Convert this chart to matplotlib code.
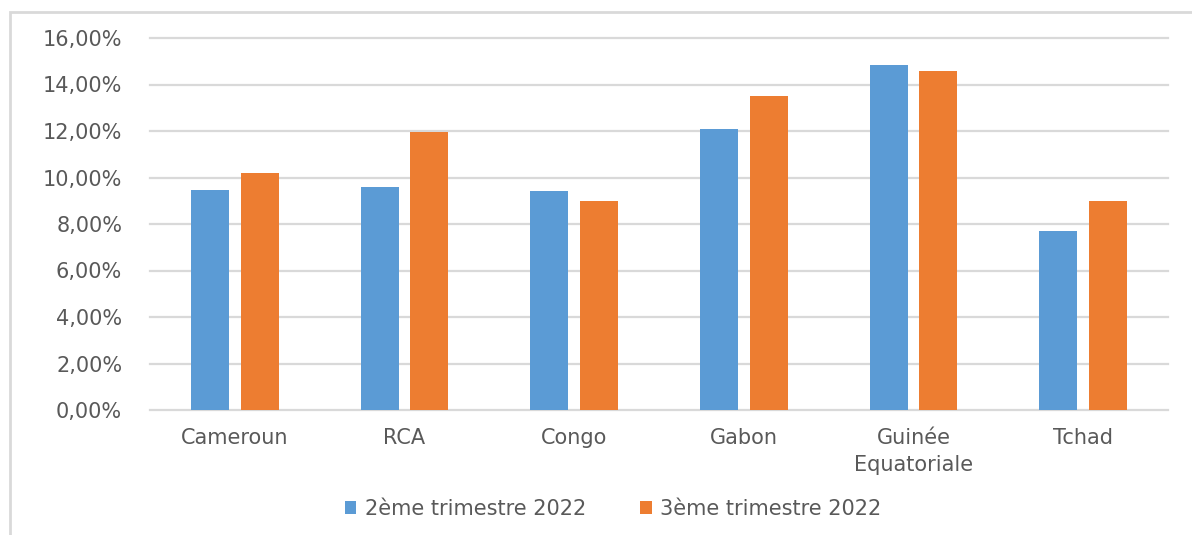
import numpy as np
import matplotlib.pyplot as plt
from matplotlib.patches import Rectangle
from matplotlib.ticker import FuncFormatter

pays = ['Cameroun', 'RCA', 'Congo', 'Gabon', 'Guinée\nEquatoriale', 'Tchad']
t2_2022 = [9.45, 9.6, 9.4, 12.1, 14.85, 7.7]
t3_2022 = [10.2, 11.95, 9.0, 13.5, 14.6, 9.0]
series = ['2ème trimestre 2022', '3ème trimestre 2022']

blue = '#5B9BD5'
orange = '#ED7D31'
txt = '#595959'

fig = plt.figure(figsize=(11.92, 5.35), dpi=100)
# outer chart frame (cut off at right/bottom)
fig.patches.append(Rectangle((10/1192, -0.05), 1.2, (535-12)/535 + 0.05,
                             transform=fig.transFigure, fill=False,
                             edgecolor='#D9D9D9', lw=2))

ax = fig.add_axes([150/1192, 125/535, (1168-150)/1192, 372/535])
x = np.arange(len(pays))
w = 0.224
ax.bar(x - 0.147, t2_2022, w, color=blue, label=series[0], zorder=3)
ax.bar(x + 0.147, t3_2022, w, color=orange, label=series[1], zorder=3)

ax.set_xlim(-0.5, len(pays) - 0.5)
ax.set_ylim(0, 16)
ax.set_yticks(np.arange(0, 17, 2))
ax.yaxis.set_major_formatter(FuncFormatter(lambda v, p: ('%.2f%%' % v).replace('.', ',')))
ax.grid(axis='y', color='#D9D9D9', lw=1.6, zorder=0)
for gl in ax.get_ygridlines():
    gl.set_clip_on(False)
for s in ax.spines.values():
    s.set_visible(False)
ax.tick_params(length=0, labelsize=15, labelcolor=txt)
ax.tick_params(axis='y', pad=20)
ax.tick_params(axis='x', pad=13)
ax.set_xticks(x)
ax.set_xticklabels(pays, linespacing=1.45)

ax.legend(loc='center', bbox_to_anchor=(613/1192, 26/535), bbox_transform=fig.transFigure,
          ncol=2, frameon=False, fontsize=15, labelcolor=txt, handlelength=0.55,
          handleheight=0.55, handletextpad=0.4, columnspacing=2.6)

fig.savefig('out.png', dpi=100)
